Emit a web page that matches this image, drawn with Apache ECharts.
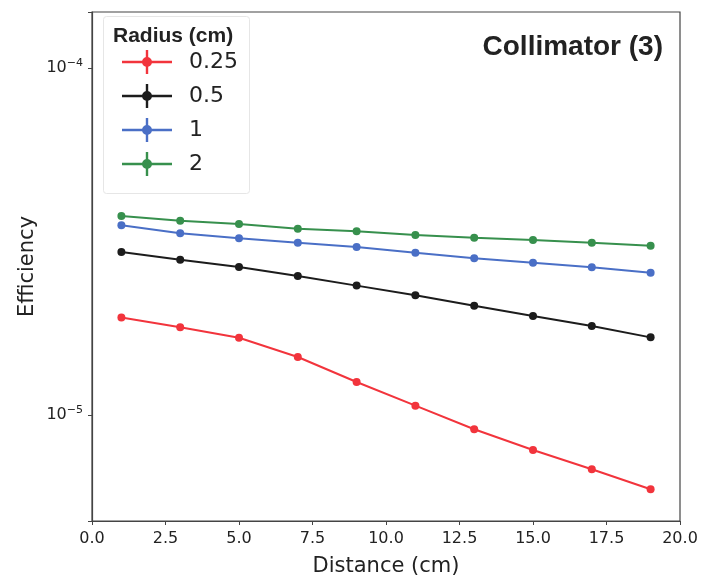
<!DOCTYPE html>
<html>
<head>
<meta charset="utf-8">
<script src="https://cdn.jsdelivr.net/npm/echarts@6/dist/echarts.min.js"></script>
<style>
  html, body { margin: 0; padding: 0; background: #fff; }
  #chart { width: 703px; height: 578px; }
</style>
</head>
<body>
<div id="chart"></div>
<script>
// Source-to-detector distance (cm)
const distances = [1, 3, 5, 7, 9, 11, 13, 15, 17, 19];

// Detection efficiency for each source radius (cm)
const radiusLabels = ['0.25', '0.5', '1', '2'];
const eff_r025 = [1.91e-5, 1.79e-5, 1.67e-5, 1.47e-5, 1.245e-5, 1.064e-5, 0.91e-5, 0.793e-5, 0.698e-5, 0.611e-5];
const eff_r05  = [2.95e-5, 2.80e-5, 2.67e-5, 2.515e-5, 2.36e-5, 2.213e-5, 2.065e-5, 1.93e-5, 1.805e-5, 1.674e-5];
const eff_r1   = [3.52e-5, 3.34e-5, 3.23e-5, 3.137e-5, 3.05e-5, 2.936e-5, 2.83e-5, 2.748e-5, 2.665e-5, 2.571e-5];
const eff_r2   = [3.746e-5, 3.63e-5, 3.552e-5, 3.443e-5, 3.384e-5, 3.302e-5, 3.243e-5, 3.194e-5, 3.137e-5, 3.075e-5];

const xTickStep = 2.5;
const seriesColors = ['#f2343c', '#1c1c1c', '#4a6fc6', '#37904d'];

const allSeries = [eff_r025, eff_r05, eff_r1, eff_r2];

// Errorbar-style legend glyph: horizontal line, vertical cap line and a dot
// (all sub-paths wound the same way so the overlaps stay filled)
const legendIcon = 'path://M0,10.8 L50,10.8 L50,13.2 L0,13.2 Z ' +
  'M23.8,0 L26.2,0 L26.2,24 L23.8,24 Z ' +
  'M20,12 a5,5 0 1,1 10,0 a5,5 0 1,1 -10,0 Z';

const chart = echarts.init(document.getElementById('chart'), null, { renderer: 'canvas' });

const option = {
  animation: false,
  backgroundColor: '#ffffff',
  textStyle: { fontFamily: 'DejaVu Sans' },
  grid: {
    left: 92, right: 23, top: 12, bottom: 57,
    show: true, borderColor: '#444', borderWidth: 1.2,
    outerBoundsMode: 'none'
  },
  title: {
    text: 'Collimator (3)',
    right: 40, top: 33, padding: 0,
    textStyle: { fontFamily: 'Liberation Sans', fontWeight: 'bold', fontSize: 28, color: '#222' }
  },
  legend: {
    orient: 'vertical',
    left: 122, top: 50, padding: 0,
    itemWidth: 50, itemHeight: 24, itemGap: 10,
    icon: legendIcon,
    textStyle: { fontFamily: 'DejaVu Sans', fontSize: 22, color: '#222', padding: [0, 0, 0, 12] },
    data: radiusLabels
  },
  graphic: [
    {
      type: 'rect', left: 103, top: 16, z: 0,
      shape: { width: 146, height: 177, r: 3 },
      style: { fill: 'rgba(255,255,255,0.9)', stroke: '#e6e6e6', lineWidth: 1 }
    },
    {
      type: 'text', left: 113, top: 26, z: 10,
      style: { text: 'Radius (cm)', fontFamily: 'Liberation Sans', fontWeight: 'bold', fontSize: 21, fill: '#222' }
    }
  ],
  xAxis: {
    type: 'value',
    min: 0, max: 20, interval: xTickStep,
    name: 'Distance (cm)', nameLocation: 'middle', nameGap: 35,
    nameMoveOverlap: false,
    nameTextStyle: { fontFamily: 'DejaVu Sans', fontSize: 21, color: '#222' },
    axisLine: { show: true, lineStyle: { color: '#444', width: 1.2 } },
    axisTick: { show: true, length: 4, lineStyle: { color: '#444' } },
    axisLabel: {
      margin: 10, fontSize: 16, color: '#222', fontFamily: 'DejaVu Sans',
      formatter: v => v.toFixed(1)
    },
    splitLine: { show: false }
  },
  yAxis: {
    type: 'log',
    logBase: 10,
    min: 4.95e-6, max: 1.45e-4,
    name: 'Efficiency', nameLocation: 'middle', nameGap: 54,
    nameMoveOverlap: false,
    nameTextStyle: { fontFamily: 'DejaVu Sans', fontSize: 21, color: '#222' },
    axisLine: { show: true, lineStyle: { color: '#444', width: 1.2 } },
    axisTick: { show: true, length: 4, lineStyle: { color: '#444' } },
    axisLabel: {
      margin: 9,
      formatter: v => {
        const e = Math.log10(v);
        if (Math.abs(e - Math.round(e)) > 1e-6) return '';
        return '{b|10}{s|\u2212' + Math.abs(Math.round(e)) + '}';
      },
      rich: {
        b: { fontFamily: 'DejaVu Sans', fontSize: 16, color: '#222' },
        s: { fontFamily: 'DejaVu Sans', fontSize: 11, color: '#222', verticalAlign: 'bottom', padding: [0, 0, 10, 0] }
      }
    },
    splitLine: { show: false }
  },
  series: allSeries.map((vals, i) => ({
    name: radiusLabels[i],
    type: 'line',
    data: distances.map((d, j) => [d, vals[j]]),
    symbol: 'circle',
    symbolSize: 8,
    showSymbol: true,
    color: seriesColors[i],
    lineStyle: { width: 2, color: seriesColors[i] },
    itemStyle: { color: seriesColors[i] },
    z: 3
  }))
};

chart.setOption(option);
</script>
</body>
</html>
